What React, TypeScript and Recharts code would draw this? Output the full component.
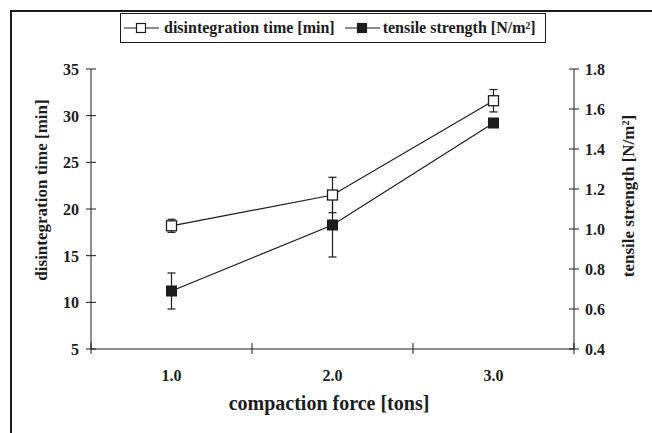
import React from 'react';
import { ComposedChart, Line, XAxis, YAxis, ErrorBar, Legend, Label } from 'recharts';

const categories = [1, 2, 3];
const categoryLabels = ['1.0', '2.0', '3.0'];
const disintegrationTime = [18.2, 21.5, 31.6];
const disintegrationErr = [0.7, 1.9, 1.2];
const tensileStrength = [0.69, 1.02, 1.53];
const tensileErr = [0.09, 0.16, 0.02];
const leftTicks = [5, 10, 15, 20, 25, 30, 35];
const rightTicks = [0.4, 0.6, 0.8, 1.0, 1.2, 1.4, 1.6, 1.8];
const xTicks = [0.5, 1, 1.5, 2, 2.5, 3, 3.5];

const data = categories.map((c, i) => ({
  x: c,
  dt: disintegrationTime[i],
  dtErr: disintegrationErr[i],
  ts: tensileStrength[i],
  tsErr: tensileErr[i],
}));

const FONT = '"Liberation Serif", "Times New Roman", serif';
const INK = '#1c1c1c';

const LeftTick = (props: any) => {
  const { x, y, payload } = props;
  return (
    <g>
      <line x1={x - 5} x2={x + 5} y1={y} y2={y} stroke={INK} strokeWidth={1} />
      <text x={x - 12} y={y} dy={6} textAnchor="end" fontFamily={FONT} fontWeight="bold" fontSize={16} fill={INK}>
        {payload.value}
      </text>
    </g>
  );
};

const RightTick = (props: any) => {
  const { x, y, payload } = props;
  return (
    <g>
      <line x1={x - 5} x2={x + 5} y1={y} y2={y} stroke={INK} strokeWidth={1} />
      <text x={x + 11} y={y} dy={6} textAnchor="start" fontFamily={FONT} fontWeight="bold" fontSize={16} fill={INK}>
        {Number(payload.value).toFixed(1)}
      </text>
    </g>
  );
};

const BottomTick = (props: any) => {
  const { x, y, payload } = props;
  const v = payload.value;
  const idx = categories.indexOf(v);
  if (idx >= 0) {
    return (
      <text x={x} y={y + 32} textAnchor="middle" fontFamily={FONT} fontWeight="bold" fontSize={16} fill={INK}>
        {categoryLabels[idx]}
      </text>
    );
  }
  return <line x1={x} x2={x} y1={y - 6} y2={y + 5} stroke={INK} strokeWidth={1} />;
};

const OpenSquare = (props: any) => {
  const { cx, cy } = props;
  if (cx == null || cy == null) return null;
  return <rect x={cx - 5} y={cy - 5} width={10} height={10} fill="#fff" stroke={INK} strokeWidth={1.3} />;
};

const FilledSquare = (props: any) => {
  const { cx, cy } = props;
  if (cx == null || cy == null) return null;
  return <rect x={cx - 5} y={cy - 5} width={10} height={10} fill={INK} stroke={INK} strokeWidth={1} />;
};

const LegendSymbol = ({ filled }: { filled: boolean }) => (
  <svg width={35} height={14} style={{ display: 'block' }}>
    <line x1={0} x2={35} y1={7} y2={7} stroke={INK} strokeWidth={1.2} />
    <rect x={12.5} y={2.5} width={9} height={9} fill={filled ? INK : '#fff'} stroke={INK} strokeWidth={1.2} />
  </svg>
);

const LegendBox = () => (
  <div
    style={{
      boxSizing: 'border-box',
      width: 426,
      height: 30,
      border: `1px solid ${INK}`,
      display: 'flex',
      alignItems: 'center',
      paddingLeft: 3,
      fontFamily: FONT,
      fontWeight: 'bold',
      fontSize: 16,
      color: INK,
      whiteSpace: 'nowrap',
      background: '#fff',
    }}
  >
    <LegendSymbol filled={false} />
    <span style={{ marginLeft: 5, marginRight: 10 }}>disintegration time [min]</span>
    <LegendSymbol filled={true} />
    <span style={{ marginLeft: 3 }}>tensile strength [N/m²]</span>
  </div>
);

export default function App() {
  return (
    <div style={{ position: 'absolute', left: 0, top: 0, width: 652, height: 433, background: '#fff' }}>
      <div
        style={{
          position: 'absolute',
          left: 10,
          top: 10,
          right: 0,
          bottom: 0,
          borderTop: `2px solid ${INK}`,
          borderLeft: `2px solid ${INK}`,
          pointerEvents: 'none',
        }}
      />
      <ComposedChart width={652} height={433} data={data} margin={{ top: 69, right: 0, bottom: 0, left: 0 }}>
        <XAxis
          dataKey="x"
          type="number"
          domain={[0.5, 3.5]}
          ticks={xTicks}
          interval={0}
          height={84}
          tickSize={0}
          tickMargin={0}
          tickLine={false}
          tick={<BottomTick />}
          axisLine={{ stroke: INK, strokeWidth: 1 }}
        >
          <Label
            content={() => (
              <text x={329} y={410} textAnchor="middle" fontFamily={FONT} fontWeight="bold" fontSize={20} fill={INK}>
                compaction force [tons]
              </text>
            )}
          />
        </XAxis>
        <YAxis
          yAxisId="left"
          orientation="left"
          domain={[5, 35]}
          ticks={leftTicks}
          interval={0}
          width={91}
          tickSize={0}
          tickMargin={0}
          tickLine={false}
          tick={<LeftTick />}
          axisLine={{ stroke: INK, strokeWidth: 1 }}
        >
          <Label
            content={() => (
              <text
                x={47}
                y={190}
                transform="rotate(-90, 47, 190)"
                textAnchor="middle"
                fontFamily={FONT}
                fontWeight="bold"
                fontSize={17}
                fill={INK}
              >
                disintegration time [min]
              </text>
            )}
          />
        </YAxis>
        <YAxis
          yAxisId="right"
          orientation="right"
          domain={[0.4, 1.8]}
          ticks={rightTicks}
          interval={0}
          width={78}
          tickSize={0}
          tickMargin={0}
          tickLine={false}
          tick={<RightTick />}
          axisLine={{ stroke: INK, strokeWidth: 1 }}
        >
          <Label
            content={() => (
              <text
                x={634}
                y={196}
                transform="rotate(-90, 634, 196)"
                textAnchor="middle"
                fontFamily={FONT}
                fontWeight="bold"
                fontSize={17}
                fill={INK}
              >
                tensile strength [N/m²]
              </text>
            )}
          />
        </YAxis>
        <Legend
          layout="horizontal"
          verticalAlign="middle"
          align="center"
          wrapperStyle={{ position: 'absolute', left: 120, top: 13, width: 426, height: 30 }}
          content={() => <LegendBox />}
        />
        <Line
          yAxisId="left"
          dataKey="dt"
          stroke={INK}
          strokeWidth={1.2}
          dot={<OpenSquare />}
          activeDot={false}
          isAnimationActive={false}
        >
          <ErrorBar dataKey="dtErr" width={4} stroke={INK} strokeWidth={1.2} direction="y" />
        </Line>
        <Line
          yAxisId="right"
          dataKey="ts"
          stroke={INK}
          strokeWidth={1.2}
          dot={<FilledSquare />}
          activeDot={false}
          isAnimationActive={false}
        >
          <ErrorBar dataKey="tsErr" width={4} stroke={INK} strokeWidth={1.2} direction="y" />
        </Line>
      </ComposedChart>
    </div>
  );
}
